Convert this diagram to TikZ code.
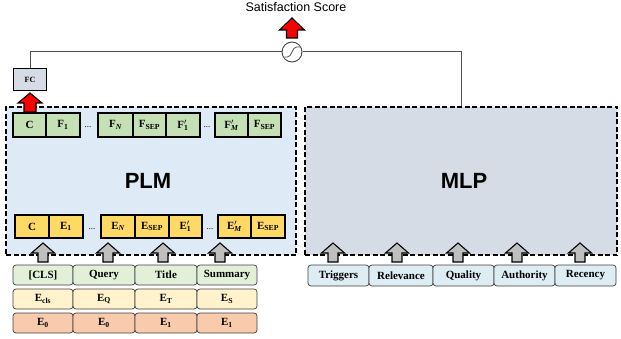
\documentclass[tikz,border=0pt]{standalone}
\usepackage{fontspec}
\setmainfont{Liberation Serif}
\newfontfamily\sansf{Liberation Sans}
\definecolor{plmfill}{HTML}{DEEBF7}
\definecolor{mlpfill}{HTML}{D6DCE5}
\definecolor{fgreen}{HTML}{C5E0B4}
\definecolor{egold}{HTML}{FFD966}
\definecolor{ingreen}{HTML}{E2F0D9}
\definecolor{inyellow}{HTML}{FFF2CC}
\definecolor{inorange}{HTML}{F8CBAD}
\definecolor{mlpin}{HTML}{DDEDF3}
\definecolor{arrgray}{HTML}{BFBFBF}
\definecolor{linegray}{HTML}{505050}
\newcommand{\tokfont}{\bfseries\fontsize{11}{12}\selectfont}
\newcommand{\pr}[2]{#1\rlap{$'$}\textsubscript{#2}}
\newcommand{\blkarrow}[7]{% cx, ytop, ybot, headhalf, shafthalf, headlen, fill
  \draw[fill=#7, line width=1.1pt, line join=miter]
    ({#1-#5},{#3}) -- ({#1-#5},{#2+#6}) -- ({#1-#4},{#2+#6}) -- ({#1},{#2})
    -- ({#1+#4},{#2+#6}) -- ({#1+#5},{#2+#6}) -- ({#1+#5},{#3}) -- cycle;}
\begin{document}
\begin{tikzpicture}[x=1pt,y=-1pt,
  bigbox/.style={draw=black, line width=1.4pt, dash pattern=on 5pt off 2.5pt},
  tokbox/.style={draw=black, line width=1.1pt, inner sep=0pt, font=\tokfont},
  frow/.style={tokbox, fill=fgreen, minimum height=24pt},
  erow/.style={tokbox, fill=egold, minimum height=23pt},
  inbox/.style={draw=black!75, line width=0.7pt, rounded corners=3pt, inner sep=0pt,
    minimum height=20pt, font=\tokfont},
  dotsnode/.style={inner sep=0pt, font=\fontsize{9}{9}\selectfont},
  conn/.style={draw=linegray, line width=1pt},
]
\useasboundingbox (0,0) rectangle (621,339);

% big boxes
\node[bigbox, fill=plmfill, minimum width=290pt, minimum height=148pt, inner sep=0pt] (plm) at (151,181) {};
\node[bigbox, fill=mlpfill, minimum width=312pt, minimum height=148pt, inner sep=0pt] (mlp) at (461,181) {};
\node[font=\sansf\bfseries\fontsize{22}{22}\selectfont] (plmlabel) at (148,181) {PLM};
\node[font=\sansf\bfseries\fontsize{22}{22}\selectfont] (mlplabel) at (464,181) {MLP};

% F row
\node[frow, minimum width=33pt] (f0) at (29.5,125) {C};
\node[frow, minimum width=34pt] (f1) at (63,125) {F\textsubscript{1}};
\node[dotsnode] (fd1) at (88,127) {...};
\node[frow, minimum width=35pt] (fn) at (115.5,125) {F\textsubscript{\itshape N}};
\node[frow, minimum width=33pt] (fsep) at (149.5,125) {F\textsubscript{SEP}};
\node[frow, minimum width=34pt] (f1p) at (183,125) {\pr{F}{1}};
\node[dotsnode] (fd2) at (207,127) {...};
\node[frow, minimum width=33pt] (fmp) at (231.5,125) {\pr{F}{\itshape M}};
\node[frow, minimum width=33pt] (fsep2) at (264.5,125) {F\textsubscript{SEP}};

% E row
\node[erow, minimum width=34pt] (e0) at (32,226.5) {C};
\node[erow, minimum width=34pt] (e1) at (66,226.5) {E\textsubscript{1}};
\node[dotsnode] (ed1) at (92,229) {...};
\node[erow, minimum width=34pt] (en) at (118,226.5) {E\textsubscript{\itshape N}};
\node[erow, minimum width=34pt] (esep) at (152,226.5) {E\textsubscript{SEP}};
\node[erow, minimum width=33pt] (e1p) at (185.5,226.5) {\pr{E}{1}};
\node[dotsnode] (ed2) at (210,229) {...};
\node[erow, minimum width=33pt] (emp) at (234.5,226.5) {\pr{E}{\itshape M}};
\node[erow, minimum width=34pt] (esep2) at (268,226.5) {E\textsubscript{SEP}};

% PLM inputs
\node[inbox, fill=ingreen, minimum width=60pt] (cls) at (43,275) {[CLS]};
\node[inbox, fill=ingreen, minimum width=62pt] (query) at (104,275) {Query};
\node[inbox, fill=ingreen, minimum width=62pt] (title) at (166,275) {Title};
\node[inbox, fill=ingreen, minimum width=60pt] (summ) at (227,275) {Summary};
\node[inbox, fill=inyellow, minimum width=60pt] (ecls) at (43,299) {E\textsubscript{cls}};
\node[inbox, fill=inyellow, minimum width=62pt] (eq) at (104,299) {E\textsubscript{Q}};
\node[inbox, fill=inyellow, minimum width=62pt] (et) at (166,299) {E\textsubscript{T}};
\node[inbox, fill=inyellow, minimum width=60pt] (es) at (227,299) {E\textsubscript{S}};
\node[inbox, fill=inorange, minimum width=60pt] (p0a) at (43,323) {E\textsubscript{0}};
\node[inbox, fill=inorange, minimum width=62pt] (p0b) at (104,323) {E\textsubscript{0}};
\node[inbox, fill=inorange, minimum width=62pt] (p1a) at (166,323) {E\textsubscript{1}};
\node[inbox, fill=inorange, minimum width=60pt] (p1b) at (227,323) {E\textsubscript{1}};

% MLP inputs
\node[inbox, fill=mlpin, minimum width=61pt, minimum height=21pt] (trig) at (338.5,275.5) {Triggers};
\node[inbox, fill=mlpin, minimum width=64pt, minimum height=21pt] (rel) at (401,275.5) {Relevance};
\node[inbox, fill=mlpin, minimum width=61pt, minimum height=21pt] (qual) at (463.5,275.5) {Quality};
\node[inbox, fill=mlpin, minimum width=61pt, minimum height=21pt] (auth) at (524.5,275.5) {Authority};
\node[inbox, fill=mlpin, minimum width=61pt, minimum height=21pt] (rec) at (585.5,275.5) {Recency};

% gray arrows
\foreach \cx in {43,108,163,220,333,397,458,517,580}{
  \blkarrow{\cx}{243}{262}{11.5}{5}{10}{arrgray}
}

% FC and sigmoid
\node[draw=black, line width=1.5pt, fill=mlpfill, minimum width=33pt, minimum height=22pt,
  inner sep=0pt, font=\bfseries\fontsize{8}{8}\selectfont] (fc) at (30,79.5) {FC};
\blkarrow{30}{93}{112}{12}{6}{10}{red}
\node[circle, draw=linegray, line width=1pt, fill=white, minimum size=20pt, inner sep=0pt] (sig) at (292,52) {};
\draw[linegray, line width=0.8pt] (284.5,57) -- (287.5,57) .. controls (292,57) and (292,47) .. (296.5,47) -- (299.5,47);
\draw[conn] (fc.north) |- (sig.west);
\draw[conn] (sig.east) -| (mlp.north);
\blkarrow{292}{18}{38}{12.5}{5.5}{12}{red}
\node[font=\sansf\fontsize{12.5}{13}\selectfont] (score) at (296,7) {Satisfaction Score};
\end{tikzpicture}
\end{document}
